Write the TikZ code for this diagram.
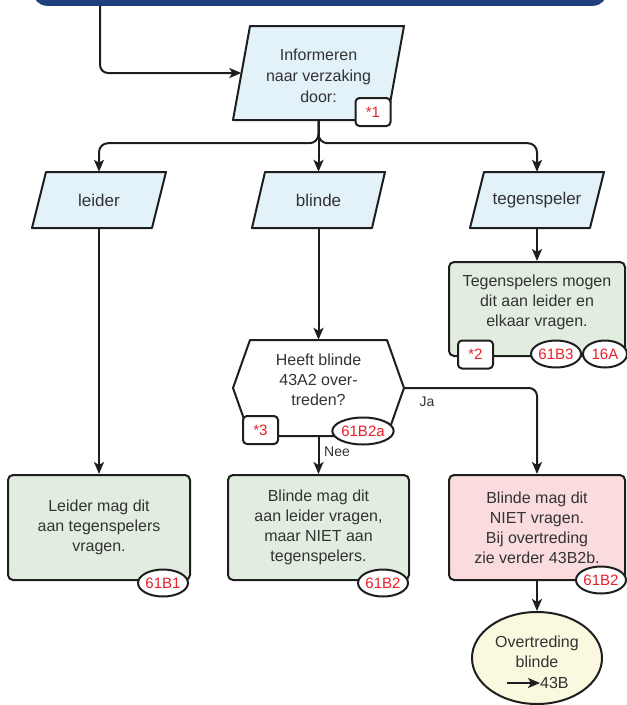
\documentclass[tikz,border=0pt]{standalone}
\usepackage{fontspec}
\setmainfont{Liberation Sans}
\usetikzlibrary{arrows.meta,calc,shapes.geometric}
\definecolor{barblue}{HTML}{1F3F7E}
\definecolor{pblue}{HTML}{E2F2F8}
\definecolor{pgreen}{HTML}{E1EEDF}
\definecolor{ppink}{HTML}{FADCDF}
\definecolor{pyellow}{HTML}{FAF8DE}
\definecolor{refred}{HTML}{E8202A}
\definecolor{txt}{HTML}{333333}
\definecolor{lin}{HTML}{1E1E1E}
\begin{document}
\begin{tikzpicture}[x=1pt,y=-1pt,
 every node/.style={text=txt, font=\fontsize{16}{20}\selectfont, inner sep=0pt},
 shp/.style={draw=lin, line width=2pt, line join=round},
 conn/.style={draw=lin, line width=2pt, -{Stealth[length=12pt,width=10pt,inset=3pt]}},
 rbox/.style={shp, rounded corners=5pt, minimum width=#1, minimum height=105pt, align=center},
 tag/.style={shp, fill=white, rounded corners=4pt, minimum width=35pt, minimum height=28pt, text=refred, font=\fontsize{15}{18}\selectfont},
 ref/.style={shp, fill=white, ellipse, minimum width=50pt, minimum height=27pt, text=refred, font=\fontsize{15}{18}\selectfont},
 small/.style={font=\fontsize{14}{16}\selectfont},
 plab/.style={font=\fontsize{17}{20}\selectfont},
]
\useasboundingbox (0,0) rectangle (627,705);

% top bar
\node[fill=barblue, rounded corners=14pt, minimum width=574pt, minimum height=40pt, anchor=south] (bar) at (320,6) {};
\coordinate (b0) at (100,6);

% Informeren
\draw[shp, fill=pblue] (250,26) -- (404,26) -- (387,120) -- (233,120) -- cycle;
\node[minimum width=154pt, minimum height=94pt] (inf) at (318.5,73) {};
\node[align=center, font=\fontsize{16}{21}\selectfont] at (318.5,76) {Informeren\\naar verzaking\\door:};

% parallelograms
\draw[shp, fill=pblue] (46,172) -- (166,172) -- (152,228) -- (32,228) -- cycle;
\node[plab, minimum width=120pt, minimum height=56pt] (leider) at (99,200) {leider};
\draw[shp, fill=pblue] (265,172) -- (385,172) -- (372,228) -- (252,228) -- cycle;
\node[plab, minimum width=120pt, minimum height=56pt] (blinde) at (318.5,200) {blinde};
\draw[shp, fill=pblue] (484,172) -- (604,172) -- (590,228) -- (470,228) -- cycle;
\node[plab, minimum width=120pt, minimum height=56pt] (tegen) at (537,200) {tegenspeler};

% tegenspeler box
\node[rbox=176pt, minimum height=94pt, fill=pgreen] (tbox) at (537,309) {};
\node[align=center] at (537,302) {Tegenspelers mogen\\dit aan leider en\\elkaar vragen.};

% hexagon
\draw[shp, fill=white] (250,340) -- (387,340) -- (404,388) -- (387,436) -- (250,436) -- (233,388) -- cycle;
\node[minimum width=171pt, minimum height=96pt] (hex) at (318.5,388) {};
\node[align=center] at (318.5,380) {Heeft blinde\\43A2 over-\\treden?};

% bottom boxes
\node[rbox=182pt, fill=pgreen] (lbox) at (99,527.5) {Leider mag dit\\aan tegenspelers\\vragen.};
\node[rbox=181pt, fill=pgreen] (bbox) at (318.5,527.5) {Blinde mag dit\\aan leider vragen,\\maar NIET aan\\tegenspelers.};
\node[rbox=176pt, fill=ppink] (red) at (537,527.5) {Blinde mag dit\\NIET vragen.\\Bij overtreding\\zie verder 43B2b.};

% end ellipse
\node[shp, ellipse, fill=pyellow, minimum width=130pt, minimum height=92pt] (ov) at (537,658) {};
\node[align=center] at (537,652) {Overtreding\\blinde};
\coordinate (a1) at (507,683);
\node[anchor=west] (n43) at (540,683) {43B};

% connectors
\draw[conn, rounded corners=8pt] (b0) |- (inf.west);
\draw[conn, rounded corners=9pt] (inf.south) -- ++(0,23) -| (leider.north);
\draw[conn, rounded corners=9pt] (inf.south) -- ++(0,23) -| (tegen.north);
\draw[conn] (inf.south) -- (blinde.north);
\draw[conn] (leider.south) -- (lbox.north);
\draw[conn] (blinde.south) -- (hex.north);
\draw[conn] (tegen.south) -- (tbox.north);
\draw[conn] (hex.south) -- (bbox.north);
\draw[conn, rounded corners=8pt] (hex.east) -| (red.north);
\draw[conn] (red.south) -- (ov.north);
\draw[conn] (a1) -- (n43.west);

\node[small] at (427,402) {Ja};
\node[small] at (337,452) {Nee};

% tags
\node[tag] (t1) at (373,112) {*1};
\node[tag] (t2) at (475.5,354.5) {*2};
\node[ref] (r61b3) at (556,354) {61B3};
\node[ref, minimum width=44pt] (r16a) at (605,354) {16A};
\node[tag] (t3) at (260.5,430) {*3};
\node[ref, minimum width=60pt] (r61b2a) at (363,431) {61B2a};
\node[ref] (r61b1) at (163,583) {61B1};
\node[ref] (r61b2) at (383,583) {61B2};
\node[ref] (r61b2r) at (601,580) {61B2};
\end{tikzpicture}
\end{document}
